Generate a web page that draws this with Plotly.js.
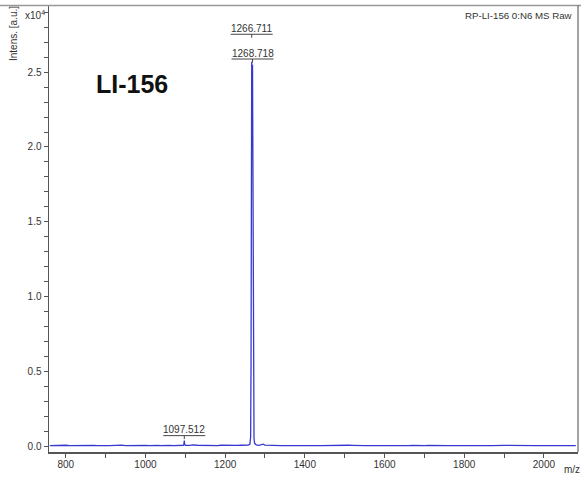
<!DOCTYPE html>
<html>
<head>
<meta charset="utf-8">
<script src="https://cdn.plot.ly/plotly-3.0.1.min.js"></script>
<style>html,body{margin:0;padding:0;background:#fff;}#chart{width:581px;height:480px;}</style>
</head>
<body>
<div id="chart"></div>
<script>
// m/z values of the spectrum
const mz = [760,770,780,790,800,810,820,830,840,850,860,870,880,890,900,910,920,930,940,950,960,970,980,990,1000,1010,1020,1030,1040,1050,1060,1070,1080,1090,1095,1096.5,1097.5,1098.5,1100,1110,1120,1130,1140,1150,1160,1170,1180,1190,1200,1210,1220,1230,1240,1250,1258,1262,1264,1265,1266,1266.7,1267.6,1268.7,1269.8,1271,1272.5,1274,1278,1285,1295,1300,1310,1320,1330,1340,1350,1360,1370,1380,1390,1400,1410,1420,1430,1440,1450,1460,1470,1480,1490,1500,1510,1520,1530,1540,1550,1560,1570,1580,1590,1600,1610,1620,1630,1640,1650,1660,1670,1680,1690,1700,1710,1720,1730,1740,1750,1760,1770,1780,1790,1800,1810,1820,1830,1840,1850,1860,1870,1880,1890,1900,1910,1920,1930,1940,1950,1960,1970,1980,1990,2000,2010,2020,2030,2040,2050,2060,2070,2080];
// intensity in units of 10^4 a.u.
const intensity = [0.003,0.004,0.002,0.003,0.005,0.002,0.003,0.004,0.002,0.003,0.002,0.004,0.003,0.005,0.003,0.002,0.004,0.003,0.006,0.003,0.004,0.002,0.005,0.003,0.004,0.003,0.006,0.004,0.003,0.005,0.004,0.003,0.005,0.004,0.005,0.012,0.036,0.010,0.005,0.004,0.008,0.005,0.004,0.006,0.004,0.005,0.003,0.005,0.004,0.005,0.003,0.004,0.005,0.004,0.006,0.012,0.06,0.55,2.1,2.57,2.32,2.55,1.35,0.28,0.05,0.018,0.008,0.005,0.012,0.006,0.004,0.003,0.004,0.002,0.003,0.004,0.002,0.003,0.002,0.003,0.004,0.002,0.003,0.002,0.003,0.002,0.003,0.002,0.002,0.003,0.005,0.004,0.002,0.003,0.002,0.003,0.002,0.003,0.002,0.002,0.003,0.002,0.003,0.002,0.002,0.003,0.004,0.002,0.002,0.003,0.004,0.003,0.002,0.003,0.002,0.002,0.003,0.002,0.003,0.002,0.002,0.003,0.002,0.002,0.003,0.002,0.003,0.005,0.006,0.004,0.004,0.003,0.004,0.003,0.002,0.003,0.002,0.002,0.002,0.002,0.003,0.002,0.002,0.002,0.003,0.002,0.002,0.003];
// peak labels
const peakLabels = ["1097.512","1266.711","1268.718"];
const peakMz = [1097.512,1266.711,1268.718];
const peakInt = [0.036,2.57,2.555];
const peakStack = [0,1,0];

const W = 581, H = 480;
const mL = 49, mR = 3, mT = 6, mB = 28;
const pw = W - mL - mR, ph = H - mT - mB;
const px = x => (x - mL) / pw;
const py = y => 1 - (y - mT) / ph;

const FONT = 'Liberation Sans, Arial, sans-serif';
const TXT = '#333';
const annotations = [];
const shapes = [];
const STK = 22.5;
peakLabels.forEach((lab, i) => {
  const off = peakStack[i] * STK;
  annotations.push({x: peakMz[i], y: peakInt[i], xref: 'x', yref: 'y', text: lab, showarrow: false,
    xanchor: 'center', yanchor: 'middle', yshift: 11 + off, font: {family: FONT, size: 10, color: TXT}});
  shapes.push({type: 'line', xref: 'x', yref: 'y', xsizemode: 'pixel', ysizemode: 'pixel',
    xanchor: peakMz[i], yanchor: peakInt[i], x0: -21, x1: 21, y0: 5 + off, y1: 5 + off,
    line: {color: '#444', width: 1}});
  shapes.push({type: 'line', xref: 'x', yref: 'y', xsizemode: 'pixel', ysizemode: 'pixel',
    xanchor: peakMz[i], yanchor: peakInt[i], x0: 0, x1: 0, y0: 1.5 + off, y1: 5 + off,
    line: {color: '#444', width: 1}});
});
// frame lines (top and right)
shapes.push({type: 'line', xref: 'paper', yref: 'paper', x0: px(0), x1: px(581), y0: py(5.5), y1: py(5.5), line: {color: '#999', width: 1.5}});
shapes.push({type: 'line', xref: 'paper', yref: 'paper', x0: px(578), x1: px(578), y0: py(5.5), y1: py(452), line: {color: '#666', width: 1.2}});

annotations.push({xref: 'paper', yref: 'paper', x: px(94), y: py(84), xanchor: 'left', yanchor: 'middle',
  text: '<b>LI-156</b>', showarrow: false, font: {family: FONT, size: 25, color: '#111'}});
annotations.push({xref: 'paper', yref: 'paper', x: px(575), y: py(16), xanchor: 'right', yanchor: 'middle',
  text: 'RP-LI-156 0:N6 MS Raw', showarrow: false, font: {family: FONT, size: 9.7, color: TXT}});
annotations.push({xref: 'paper', yref: 'paper', x: px(47), y: py(15), xanchor: 'right', yanchor: 'middle',
  text: 'x10<sup>4</sup>', showarrow: false, font: {family: FONT, size: 10, color: TXT}});
annotations.push({xref: 'paper', yref: 'paper', x: px(14), y: py(34), xanchor: 'center', yanchor: 'middle',
  text: 'Intens. [a.u.]', textangle: -90, showarrow: false, font: {family: FONT, size: 10, color: TXT}});
annotations.push({xref: 'paper', yref: 'paper', x: px(572), y: py(469), xanchor: 'center', yanchor: 'middle',
  text: 'm/z', showarrow: false, font: {family: FONT, size: 10, color: TXT}});

const trace = {x: mz, y: intensity, type: 'scatter', mode: 'lines',
  line: {color: '#3838d0', width: 1.3}, hoverinfo: 'skip'};

const layout = {
  width: W, height: H,
  margin: {l: mL, r: mR, t: mT, b: mB, pad: 0},
  paper_bgcolor: '#fff', plot_bgcolor: '#fff',
  showlegend: false,
  font: {family: FONT, size: 10, color: TXT},
  xaxis: {range: [758, 2085.5], showgrid: false, zeroline: false,
    showline: true, linecolor: '#555', linewidth: 1.5,
    ticks: 'outside', ticklen: 4, tickcolor: '#555', tickwidth: 1,
    tick0: 800, dtick: 200, ticklabelstandoff: -2,
    minor: {ticks: 'outside', ticklen: 4, tickcolor: '#555', dtick: 100, tick0: 800, showgrid: false},
    tickfont: {family: FONT, size: 10, color: TXT}},
  yaxis: {range: [-0.04, 2.943], showgrid: false, zeroline: false,
    showline: true, linecolor: '#555', linewidth: 1.5,
    ticks: 'outside', ticklen: 4, tickcolor: '#555', tickwidth: 1,
    tick0: 0, dtick: 0.5, tickformat: '.1f',
    minor: {ticks: 'outside', ticklen: 4, tickcolor: '#555', dtick: 0.1, tick0: 0, showgrid: false},
    tickfont: {family: FONT, size: 10, color: TXT}},
  annotations: annotations,
  shapes: shapes
};

Plotly.newPlot('chart', [trace], layout, {staticPlot: true, displayModeBar: false});
</script>
</body>
</html>
